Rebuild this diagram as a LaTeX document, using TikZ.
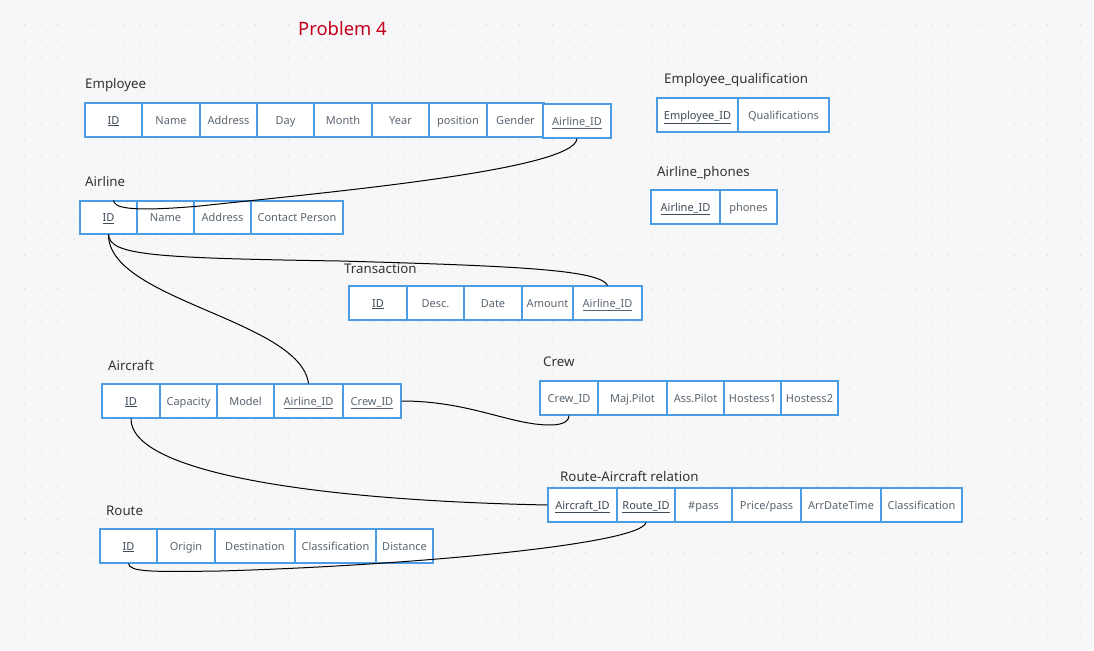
\documentclass[tikz,border=0pt]{standalone}
\usepackage{fontspec}
\setmainfont{Noto Sans}
\definecolor{bgc}{HTML}{F7F7FA}
\definecolor{dotc}{HTML}{D5D6DE}
\definecolor{cellborder}{HTML}{4A9DE3}
\definecolor{celltext}{HTML}{5A6570}
\definecolor{keytext}{HTML}{3E4A57}
\definecolor{labeltext}{HTML}{333333}
\definecolor{titlered}{HTML}{C4001A}
\newcommand\cellbox[6]{\node[cellstyle, minimum width={(#3-#2)*1pt}, minimum height={(#5-#4)*1pt}] (#1) at ({(#2+#3)/2},{(#4+#5)/2}) {#6};}
\newcommand\keyt[1]{\textcolor{keytext}{\underline{#1}}}
\tikzset{
  cellstyle/.style={draw=cellborder, line width=1.1pt, fill=white, inner sep=0.5pt,
    text height=9.2pt, text depth=1pt,
    font=\fontsize{11}{13}\selectfont, text=celltext},
  tlabel/.style={anchor=base west, inner sep=0, font=\fontsize{13.3}{15}\selectfont, text=labeltext},
  link/.style={draw=black, line width=1pt}
}
\begin{document}
\begin{tikzpicture}[x=1pt,y=-1pt]
\fill[bgc] (0,0) rectangle (1094,650);
\useasboundingbox (0,0) rectangle (1094,650);
\foreach \i in {0,...,66}{\foreach \j in {0,...,39}{\fill[dotc] ({8+\i*16.5},{8+\j*16.5}) circle (0.65);}}

\node[anchor=base west, inner sep=0, font=\fontsize{18.4}{20}\selectfont, text=titlered] (title) at (298,36) {Problem 4};

% Employee
\node[tlabel] (lEmp) at (85,89) {Employee};
\cellbox{empID}{85}{142}{103}{137}{\keyt{ID}}
\cellbox{empName}{142}{200}{103}{137}{Name}
\cellbox{empAddr}{200}{257}{103}{137}{Address}
\cellbox{empDay}{257}{314}{103}{137}{Day}
\cellbox{empMonth}{314}{372}{103}{137}{Month}
\cellbox{empYear}{372}{429}{103}{137}{Year}
\cellbox{empPos}{429}{487}{103}{137}{position}
\cellbox{empGender}{487}{544}{103}{137}{Gender}
\cellbox{empAid}{543}{611}{104}{138}{\underline{Airline\_ID}}

% Employee_qualification
\node[tlabel] (lEq) at (664,84) {Employee\_qualification};
\cellbox{eqEid}{657}{738}{98}{132}{\keyt{Employee\_ID}}
\cellbox{eqQual}{738}{829}{98}{132}{Qualifications}

% Airline_phones
\node[tlabel] (lAp) at (657,176) {Airline\_phones};
\cellbox{apAid}{651}{720}{190}{224}{\keyt{Airline\_ID}}
\cellbox{apPh}{720}{777}{190}{224}{phones}

% Airline
\node[tlabel] (lAir) at (85,186) {Airline};
\cellbox{airID}{80}{137}{201}{234}{\keyt{ID}}
\cellbox{airName}{137}{194}{201}{234}{Name}
\cellbox{airAddr}{194}{251}{201}{234}{Address}
\cellbox{airCP}{251}{343}{201}{234}{Contact Person}

% Transaction
\node[tlabel] (lTr) at (344,273) {Transaction};
\cellbox{trID}{349}{407}{286}{320}{\keyt{ID}}
\cellbox{trDesc}{407}{464}{286}{320}{Desc.}
\cellbox{trDate}{464}{522}{286}{320}{Date}
\cellbox{trAmt}{522}{573}{286}{320}{Amount}
\cellbox{trAid}{573}{642}{286}{320}{\underline{Airline\_ID}}

% Aircraft
\node[tlabel] (lAc) at (108,370) {Aircraft};
\cellbox{acID}{102}{160}{384}{418}{\keyt{ID}}
\cellbox{acCap}{160}{217}{384}{418}{Capacity}
\cellbox{acModel}{217}{274}{384}{418}{Model}
\cellbox{acAid}{274}{343}{384}{418}{\underline{Airline\_ID}}
\cellbox{acCrew}{343}{401}{384}{418}{\underline{Crew\_ID}}

% Crew
\node[tlabel] (lCrew) at (543,366) {Crew};
\cellbox{crID}{540}{598}{381}{415}{Crew\_ID}
\cellbox{crMaj}{598}{667}{381}{415}{Maj.Pilot}
\cellbox{crAss}{667}{724}{381}{415}{Ass.Pilot}
\cellbox{crH1}{724}{781}{381}{415}{Hostess1}
\cellbox{crH2}{781}{838}{381}{415}{Hostess2}

% Route-Aircraft relation
\node[tlabel] (lRa) at (560,481) {Route-Aircraft relation};
\cellbox{raAid}{548}{617}{488}{522}{\keyt{Aircraft\_ID}}
\cellbox{raRid}{617}{675}{488}{522}{\keyt{Route\_ID}}
\cellbox{raPass}{675}{732}{488}{522}{\#pass}
\cellbox{raPrice}{732}{801}{488}{522}{Price/pass}
\cellbox{raArr}{801}{881}{488}{522}{ArrDateTime}
\cellbox{raCls}{881}{962}{488}{522}{Classification}

% Route
\node[tlabel] (lRoute) at (106,515) {Route};
\cellbox{rtID}{100}{157}{529}{563}{\keyt{ID}}
\cellbox{rtOrig}{157}{215}{529}{563}{Origin}
\cellbox{rtDest}{215}{295}{529}{563}{Destination}
\cellbox{rtCls}{295}{376}{529}{563}{Classification}
\cellbox{rtDist}{376}{433}{529}{563}{Distance}

% connectors
\draw[link] (empAid.south) .. controls (575,170) and (330,192) .. (200,206) .. controls (120,213) and (115,206) .. ([xshift=5]airID.north);
\draw[link] (airID.south) .. controls (110,255) and (150,258) .. (340,261) .. controls (520,266) and (600,270) .. (trAid.north);
\draw[link] (airID.south) .. controls (108,300) and (300,320) .. (acAid.north);
\draw[link] (acCrew.east) .. controls (470,401) and (510,425) .. (550,425) .. controls (565,425) and (569,420) .. (crID.south);
\draw[link] (acID.south) .. controls (130,470) and (300,500) .. (raAid.west);
\draw[link] (rtID.south) .. controls (130,572) and (150,572) .. (220,571) .. controls (400,566) and (640,545) .. (raRid.south);
\end{tikzpicture}
\end{document}
